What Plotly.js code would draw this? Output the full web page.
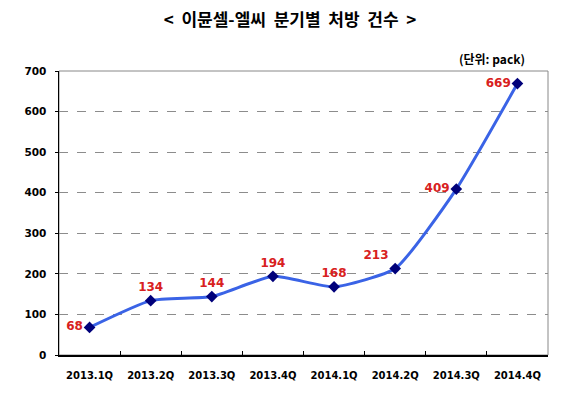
<!DOCTYPE html>
<html><head><meta charset="utf-8">
<script src="https://cdn.plot.ly/plotly-3.0.1.min.js"></script>
<style>body{margin:0;background:#fff}#c{width:580px;height:398px}</style>
</head><body><div id="c"></div>
<script>
const quarters = ['2013.1Q','2013.2Q','2013.3Q','2013.4Q','2014.1Q','2014.2Q','2014.3Q','2014.4Q'];
const prescriptions = [68,134,144,194,168,213,409,669];
const labelPositions = ['middle left','top center','top center','top center','top center','top left','middle left','middle left'];
const yTicks = [0,100,200,300,400,500,600,700];

const trace = {
  x: quarters, y: prescriptions, type: 'scatter', mode: 'lines+markers+text',
  line: {color: '#3a63e6', width: 3, shape: 'spline', smoothing: 0.5},
  marker: {symbol: 'diamond', size: 9, color: '#00007a'},
  text: prescriptions.map(String), textposition: labelPositions,
  textfont: {family: 'DejaVu Sans, sans-serif', size: 12, color: '#d82020', weight: 'bold'},
  cliponaxis: false, hoverinfo: 'skip'
};
const layout = {
  width: 580, height: 398, paper_bgcolor: '#fff', plot_bgcolor: '#fff',
  margin: {l: 59, r: 32, t: 71, b: 43},
  showlegend: false,
  title: {text: '<  이뮨셀-엘씨  분기별  처방  건수  >', x: 0.5, xanchor: 'center', y: 0.95, yanchor: 'middle',
          font: {family: 'Noto Sans CJK KR, sans-serif', size: 17, color: '#000', weight: 'bold'}},
  xaxis: {type: 'category', range: [-0.5, 7.5], showline: true, linecolor: '#000', linewidth: 1.5,
          ticks: 'inside', tickson: 'boundaries', ticklen: 4, tickcolor: '#000', showgrid: false,
          ticklabelstandoff: 10,
          tickfont: {family: 'DejaVu Sans, sans-serif', size: 10, color: '#000', weight: 'bold'}, fixedrange: true},
  yaxis: {range: [0, 700], tickvals: yTicks, showline: true, linecolor: '#000', linewidth: 1.5,
          ticks: 'outside', ticklen: 3, tickcolor: '#000', showgrid: true, gridcolor: '#8c8c8c', griddash: 'dash',
          gridwidth: 1, zeroline: false, ticklabelstandoff: 6,
          tickfont: {family: 'DejaVu Sans, sans-serif', size: 10.5, color: '#000', weight: 'bold'}, fixedrange: true},
  shapes: [{type: 'rect', xref: 'paper', yref: 'paper', x0: 0, x1: 1, y0: 0, y1: 1, line: {color: '#888', width: 1}, layer: 'below'}],
  annotations: [{text: '(단위: pack)', xref: 'paper', yref: 'paper', x: 0.885, y: 1.045, xanchor: 'center', yanchor: 'middle',
                 showarrow: false, font: {family: 'Noto Sans CJK KR, sans-serif', size: 12, color: '#000', weight: 'bold'}}]
};
Plotly.newPlot('c', [trace], layout, {displayModeBar: false, staticPlot: true});
</script></body></html>
